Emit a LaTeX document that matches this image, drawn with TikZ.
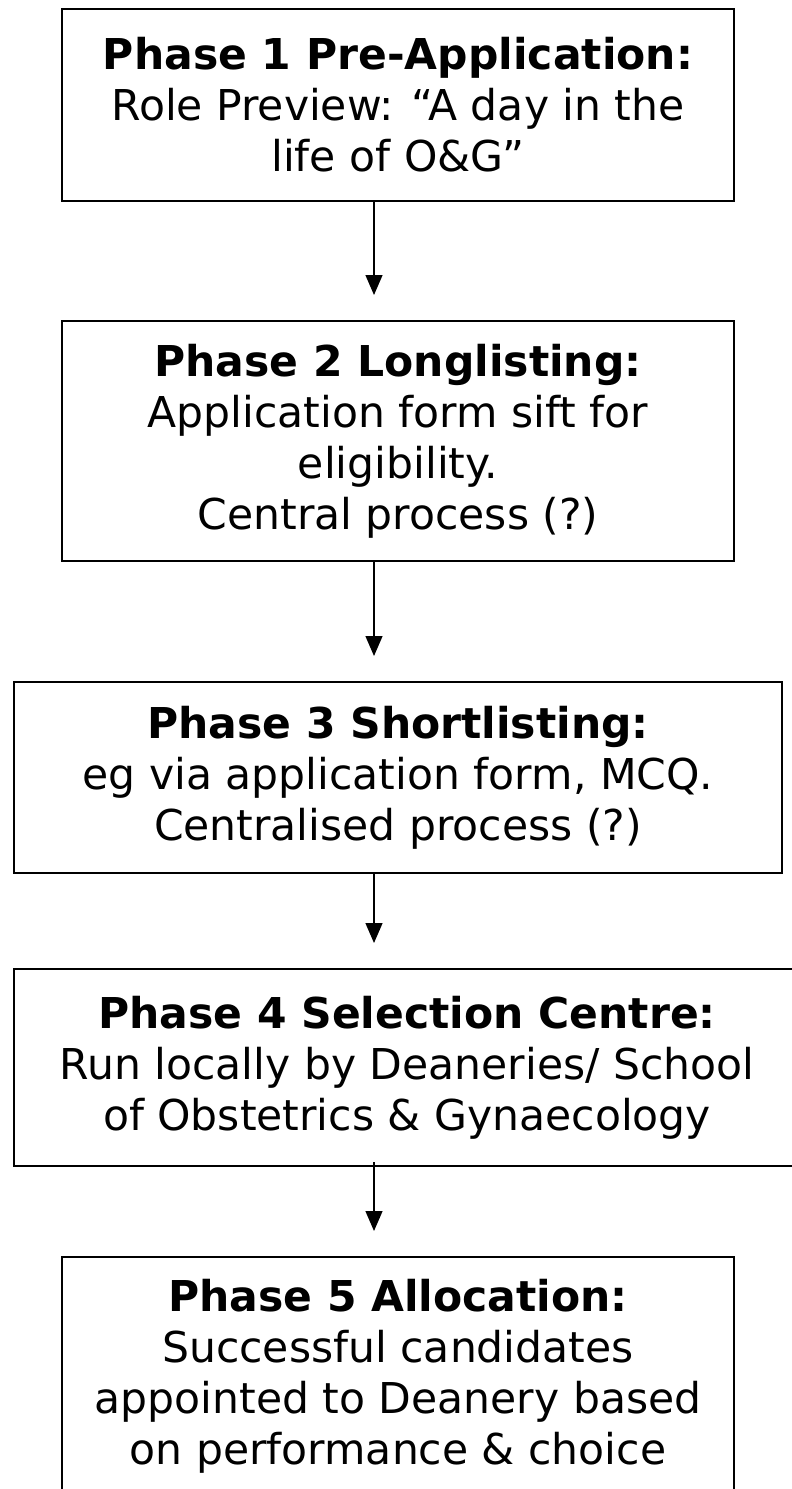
\documentclass[tikz,border=0pt]{standalone}
\usepackage{fontspec}
\setmainfont{DejaVu Sans}
\usetikzlibrary{arrows.meta}
\begin{document}
\begin{tikzpicture}[x=1pt, y=-1pt,
	every node/.style={text centered},
	phasebox/.style={rectangle, draw, line width=2pt, inner sep=0pt, align=center,
		font=\fontsize{42.5}{51}\selectfont},
	flowarrow/.style={line width=1.3pt, -{Triangle[width=17pt, length=20pt]}}]
	\useasboundingbox (0,0) rectangle (792,1489);
	\draw (398, 105)	node[phasebox, minimum width=672pt, minimum height=192pt] (phaseone)
			{\textbf{Phase 1 Pre-Application:}\\Role Preview: “A day in the\\life of O\&G”}
		(398, 441)	node[phasebox, minimum width=672pt, minimum height=240pt] (phasetwo)
			{\textbf{Phase 2 Longlisting:}\\Application form sift for\\eligibility.\\Central process (?)}
		(398, 777.5)	node[phasebox, minimum width=768pt, minimum height=191pt] (phasethree)
			{\textbf{Phase 3 Shortlisting:}\\eg via application form, MCQ.\\Centralised process (?)}
		(407, 1067.5)	node[phasebox, minimum width=786pt, minimum height=197pt] (phasefour)
			{\textbf{Phase 4 Selection Centre:}\\Run locally by Deaneries/ School\\of Obstetrics \& Gynaecology}
		(398, 1376)	node[phasebox, minimum width=672pt, minimum height=238pt] (phasefive)
			{\textbf{Phase 5 Allocation:}\\Successful candidates\\appointed to Deanery based\\on performance \& choice}
;
	\draw[flowarrow] ([xshift=-24pt]phaseone.south) -- ([xshift=-24pt, yshift=25pt]phasetwo.north);
	\draw[flowarrow] ([xshift=-24pt]phasetwo.south) -- ([xshift=-24pt, yshift=25pt]phasethree.north);
	\draw[flowarrow] ([xshift=-24pt]phasethree.south) -- ([xshift=-33pt, yshift=25pt]phasefour.north);
	\draw[flowarrow] ([xshift=-33pt, yshift=5pt]phasefour.south) -- ([xshift=-24pt, yshift=25pt]phasefive.north);
\end{tikzpicture}
\end{document}
